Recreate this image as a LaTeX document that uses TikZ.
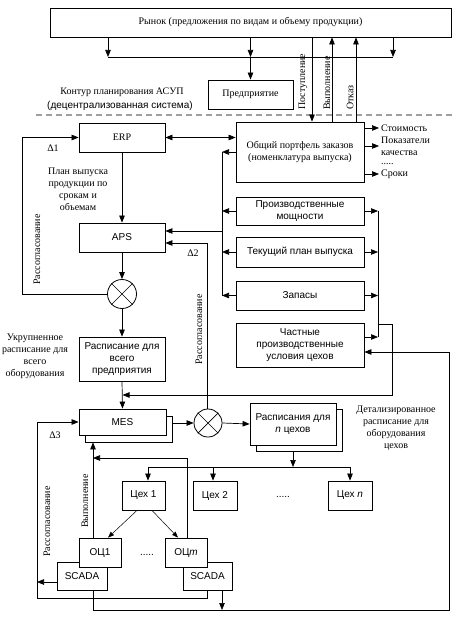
\documentclass[tikz,border=0pt]{standalone}
\usepackage{fontspec}
\setmainfont{Liberation Serif}
\setsansfont{Liberation Sans}
\usetikzlibrary{arrows.meta,calc}
\begin{document}
\begin{tikzpicture}[x=1pt,y=-1pt,
  box/.style={draw, fill=white, inner sep=0pt, align=center, line width=0.8pt,
              font=\sffamily\fontsize{10}{12}\selectfont},
  sbox/.style={box, font=\rmfamily\fontsize{10}{12}\selectfont},
  arr/.style={-{Triangle[length=7pt,width=5.5pt]}, line width=0.7pt},
  tarr/.style={-{Triangle[length=6pt,width=4.5pt]}, line width=0.5pt},
  darr/.style={{Triangle[length=7pt,width=5.5pt]}-{Triangle[length=7pt,width=5.5pt]}, line width=0.7pt},
  ln/.style={line width=0.7pt},
  lbl/.style={font=\rmfamily\fontsize{10}{12}\selectfont, align=center, inner sep=0pt},
  slbl/.style={lbl, font=\sffamily\fontsize{10}{12}\selectfont},
  vlbl/.style={lbl, rotate=90, anchor=west},
  xcirc/.style={draw, circle, minimum size=29pt, inner sep=0pt, fill=white, line width=0.8pt}]
\useasboundingbox (0,0) rectangle (455,617);

% ---------- nodes ----------
\node[sbox, minimum width=401pt, minimum height=29pt] (market) at (250.5,22.5) {Рынок (предложения по видам и объему продукции)};
\node[sbox, minimum width=85pt, minimum height=29pt] (pred) at (250.5,94.5) {Предприятие};
\node[lbl] (kontur) at (122,92) {Контур планирования АСУП};
\node[slbl] (decentr) at (120,106) {(децентрализованная система)};

\node[sbox, minimum width=86pt, minimum height=29pt] (erp) at (122,137.5) {ERP};
\node[sbox, minimum width=128pt, minimum height=60pt] (portf) at (300,152) {Общий портфель заказов\\(номенклатура выпуска)};
\node[box, minimum width=86pt, minimum height=29pt] (aps) at (122,237.5) {APS};
\node[xcirc] (c1) at (122,294) {};
\node[box, minimum width=86pt, minimum height=44pt] (rasp) at (122,359) {Расписание для\\всего\\предприятия};
\node[box, minimum width=87pt, minimum height=26pt] (mesb) at (128.5,429) {};
\node[box, minimum width=87pt, minimum height=26pt] (mes) at (122.5,422) {MES};
\node[xcirc, minimum size=28pt] (c2) at (208,423) {};
\node[box, minimum width=86pt, minimum height=42pt] (raspnb) at (299,430) {};
\node[box, minimum width=86pt, minimum height=42pt] (raspn) at (293,424) {Расписания для\\\textit{n} цехов};

\node[box, minimum width=128pt, minimum height=28pt] (pm) at (300,211) {Производственные\\мощности};
\node[box, minimum width=128pt, minimum height=30pt] (tp) at (300,252) {Текущий план выпуска};
\node[box, minimum width=128pt, minimum height=29pt] (zap) at (300,295.5) {Запасы};
\node[box, minimum width=128pt, minimum height=44pt] (chast) at (300,345) {Частные\\производственные\\условия цехов};

\node[box, minimum width=43pt, minimum height=29pt] (ceh1) at (143.5,495.5) {Цех 1};
\node[box, minimum width=44pt, minimum height=29pt] (ceh2) at (215,495.5) {Цех 2};
\node[box, minimum width=44pt, minimum height=29pt] (cehn) at (350,495.5) {Цех \textit{n}};
\node[slbl] (dots1) at (283,497) {.....};

\node[box, minimum width=50pt, minimum height=28pt] (scada1) at (82,576) {SCADA};
\node[box, minimum width=42pt, minimum height=29pt] (oc1) at (100,552.5) {ОЦ1};
\node[box, minimum width=49pt, minimum height=28pt] (scadam) at (207.5,576) {SCADA};
\node[box, minimum width=42pt, minimum height=29pt] (ocm) at (186,552.5) {ОЦ\textit{m}};
\node[slbl] (dots2) at (147,555) {.....};

% ---------- labels ----------
\node[lbl] (plan) at (78,189) {План выпуска\\продукции по\\срокам и\\объемам};
\node[lbl] (ukr) at (35,356) {Укрупненное\\расписание для\\всего\\оборудования};
\node[lbl] (detal) at (396,428) {Детализированное\\расписание для\\оборудования\\цехов};
\node[lbl] (d1) at (53,148) {Δ1};
\node[lbl] (d2) at (193,253) {Δ2};
\node[lbl] (d3) at (55,435) {Δ3};
\node[vlbl] (r1) at (37,285) {Рассогласование};
\node[vlbl] (r2) at (199,365) {Рассогласование};
\node[vlbl] (r3) at (47,557) {Рассогласование};
\node[vlbl] (v1) at (85,528) {Выполнение};
\node[vlbl] (post) at (303,110) {Поступление};
\node[vlbl] (vyp) at (327,110) {Выполнение};
\node[vlbl] (otk) at (350,110) {Отказ};
\node[lbl, anchor=west] (lst) at (381,128) {Стоимость};
\node[lbl, anchor=west, align=left] (lpk) at (381,146) {Показатели\\качества};
\node[lbl, anchor=west] (ldt) at (381,164.5) {.....};
\node[lbl, anchor=west] (lsr) at (381,174) {Сроки};

% ---------- dashed contour ----------
\draw[gray!75, dash pattern=on 6pt off 4pt, line width=1.6pt] (36,115) -- (455,115);

% ---------- coordinates ----------
\coordinate (busL) at (108,57);
\coordinate (busM) at (250.5,57);
\coordinate (busR) at (393,57);
\coordinate (xpost) at (312,0);
\coordinate (xvyp) at (332,0);
\coordinate (xotk) at (356,0);
\coordinate (lbx) at (222,0);
\coordinate (rbx) at (378,0);
\coordinate (apsin) at (222,231);
\coordinate (dd2) at (207,243);
\coordinate (d1x) at (22,0);
\coordinate (rb1) at (378,324);
\coordinate (rb2) at (392,324);
\coordinate (rb3) at (392,395);
\coordinate (bl) at (93,610);
\coordinate (br) at (449,610);
\coordinate (sm) at (222,610);
\coordinate (cb) at (0,467);
\coordinate (a1) at (148,467);
\coordinate (a2) at (213,467);
\coordinate (an) at (350,467);
\coordinate (vy) at (93,458);
\coordinate (d3b) at (37,598);
\coordinate (chin) at ([yshift=8pt]chast.east);
\coordinate (chfb) at ([yshift=-7pt]chast.east);

% ---------- top connectors ----------
\draw[arr] (market.south -| busL) -- (busL);
\draw[arr] (market.south -| busR) -- (busR);
\draw[arr] (market.south -| busM) -- (busM);
\draw[ln] (busL) -- (busR);
\draw[arr] (busM) -- (pred.north);
\draw[arr] (market.south -| xpost) -- (portf.north -| xpost);
\draw[arr] (portf.north -| xvyp) -- (market.south -| xvyp);
\draw[arr] (portf.north -| xotk) -- (market.south -| xotk);

% ---------- ERP / portfolio ----------
\draw[darr] (erp.east) -- (erp.east -| portf.west);
\draw[arr, shorten >=2pt] (portf.east |- lst.west) -- (lst.west);
\draw[arr, shorten >=2pt] (portf.east |- lpk.west) -- (lpk.west);
\draw[arr, shorten >=2pt] (portf.east |- lsr.west) -- (lsr.west);

% ---------- left bus ----------
\draw[arr] (portf.west) -- (portf.west -| lbx);
\draw[arr] (pm.west) -- (pm.west -| lbx);
\draw[arr] (tp.west) -- (tp.west -| lbx);
\draw[arr] (zap.west) -- (zap.west -| lbx);
\draw[ln] (portf.west -| lbx) -- (zap.west -| lbx);
\draw[arr] (apsin) -- (apsin -| aps.east);

% ---------- right bus ----------
\draw[arr] (pm.east) -- (pm.east -| rbx);
\draw[arr] (tp.east) -- (tp.east -| rbx);
\draw[arr] (zap.east) -- (zap.east -| rbx);
\draw[arr] (chin) -- (chin -| rbx);
\draw[ln] (pm.east -| rbx) -- (chin -| rbx);
\draw[arr] (rb1) -- (rb2) -- (rb3) -- (rb3 -| mes.north);

% ---------- main chain ----------
\draw[arr] (erp.south) -- (aps.north);
\draw[arr] (aps.south) -- (c1.north);
\draw[arr] (c1.south) -- (rasp.north);
\draw[arr] (rasp.south) -- (mes.north);
\draw[ln] (c1.45) -- (c1.225) (c1.135) -- (c1.315);
\draw[arr] (c1.west) -| (d1x |- erp.west) -- (erp.west);

\draw[arr] (mesb.east |- c2.west) -- (c2.west);
\draw[arr] (c2.east) -- (raspn.west);
\draw[ln] (c2.45) -- (c2.225) (c2.135) -- (c2.315);
\draw[arr] ([xshift=-1pt]c2.north) |- (dd2 -| aps.east);

% ---------- shops ----------
\draw[arr] (raspn.south |- raspnb.south) -- (raspn.south |- cb);
\draw[ln] (a1) -- (an);
\draw[arr] (a1) -- (a1 |- ceh1.north);
\draw[arr] (a2) -- (a2 |- ceh2.north);
\draw[arr] (an) -- (an |- cehn.north);
\draw[tarr] ([xshift=-6.5pt]ceh1.south) -- ([xshift=8pt]oc1.north);
\draw[tarr] ([xshift=8.5pt]ceh1.south) -- ([xshift=-8pt]ocm.north);

% ---------- execution feedback ----------
\draw[arr] ([xshift=-7pt]oc1.north) -- ([xshift=-7pt]oc1.north |- mesb.south);
\draw[arr] ([xshift=1pt]ocm.north) |- (vy);

% ---------- mismatch Δ3 ----------
\draw[arr] (scadam.south) |- (d3b) |- (mes.west);
\draw[arr] ([yshift=-6pt]scada1.west) -- ([yshift=-6pt]scada1.west -| d3b);

% ---------- bottom feedback ----------
\draw[arr] (scada1.south -| bl) -- (bl) -- (br) -- (br |- chfb) -- (chfb);
\draw[arr] (scadam.south -| sm) -- (sm);
\end{tikzpicture}
\end{document}
